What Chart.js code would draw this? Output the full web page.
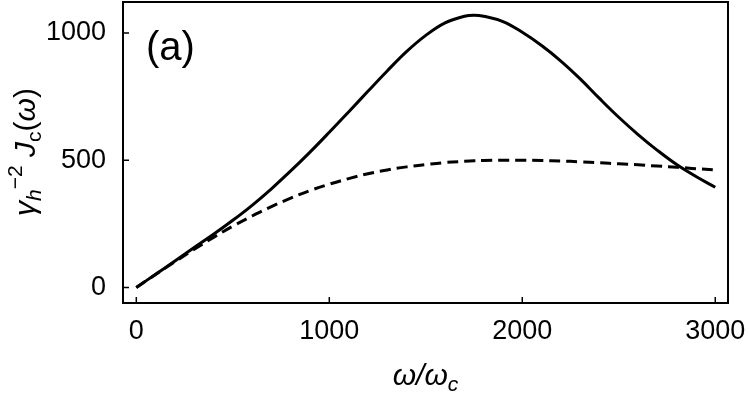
<!DOCTYPE html>
<html>
<head>
<meta charset="utf-8">
<script src="https://cdn.jsdelivr.net/npm/chart.js@4"></script>
<style>
  html, body { margin: 0; padding: 0; background: #fff; }
  #wrap { width: 750px; height: 398px; }
</style>
</head>
<body>
<div id="wrap"><canvas id="specChart" width="750" height="398"></canvas></div>
<script>
// values
const omega = [0, 100, 200, 300, 400, 500, 600, 700, 800, 900, 1000, 1100, 1200, 1300, 1400, 1500,
               1600, 1700, 1750, 1800, 1900, 2000, 2100, 2200, 2300, 2400, 2500, 2600, 2700, 2800, 2900, 3000]
const solidJ = [0, 52, 104, 157, 209, 264, 323, 388, 458, 532, 610, 690, 771, 851, 927, 991,
                1040, 1066, 1070, 1066, 1045, 1003, 951, 890, 820, 743, 669, 601, 539, 483, 436, 394]
const dashedJ = [0, 51, 101, 150, 197, 241, 281, 318, 351, 381, 406, 428, 447, 462, 474, 483,
                 491, 496, 498, 499, 500, 500, 499, 497, 494, 490, 486, 482, 477, 473, 467, 462]
const xTicks = [0, 1000, 2000, 3000]
const yTicks = [0, 500, 1000]

const FONT = "'Liberation Sans', Arial, sans-serif"

function toPoints(ys) {
    return omega.map((w, i) => ({ x: w, y: ys[i] }))
}

// draws frame, inward ticks, axis titles and panel label
const decorPlugin = {
    id: 'decor',
    afterDraw(chart) {
        const ctx = chart.ctx
        const area = chart.chartArea
        const xs = chart.scales.x
        const ys = chart.scales.y
        ctx.save()
        ctx.strokeStyle = '#000'

        ctx.lineWidth = 1.5
        ctx.beginPath()
        for (const t of xTicks) {
            const px = xs.getPixelForValue(t)
            ctx.moveTo(px, area.bottom)
            ctx.lineTo(px, area.bottom - 6)
        }
        for (const t of yTicks) {
            const py = ys.getPixelForValue(t)
            ctx.moveTo(area.left, py)
            ctx.lineTo(area.left + 6, py)
        }
        ctx.stroke()

        ctx.lineWidth = 2
        ctx.strokeRect(area.left, area.top, area.right - area.left, area.bottom - area.top)

        ctx.fillStyle = '#000'
        ctx.textBaseline = 'alphabetic'

        // panel label
        ctx.font = '40px ' + FONT
        ctx.textAlign = 'left'
        ctx.fillText('(a)', 146, 60)

        // x title: ω/ω_c
        let parts = [
            { t: 'ω', f: 'italic 30px ' + FONT, dy: 0 },
            { t: '/', f: 'italic 30px ' + FONT, dy: 0 },
            { t: 'ω', f: 'italic 30px ' + FONT, dy: 0 },
            { t: 'c', f: 'italic 21px ' + FONT, dy: 6 }
        ]
        drawParts(ctx, parts, (area.left + area.right) / 2, 385)

        // y title: γ_h^-2 J_c(ω), rotated
        parts = [
            { t: 'γ', f: 'italic 30px ' + FONT, dy: 0 },
            { t: 'h', f: 'italic 21px ' + FONT, dy: 6 },
            { t: '−2', f: '21px ' + FONT, dy: -13 },
            { t: ' ', f: '30px ' + FONT, dy: 0 },
            { t: 'J', f: 'italic 30px ' + FONT, dy: 0 },
            { t: 'c', f: '21px ' + FONT, dy: 6 },
            { t: '(', f: '30px ' + FONT, dy: 0 },
            { t: 'ω', f: 'italic 30px ' + FONT, dy: 0 },
            { t: ')', f: '30px ' + FONT, dy: 0 }
        ]
        ctx.translate(35, 152)
        ctx.rotate(-Math.PI / 2)
        drawParts(ctx, parts, 0, 0)

        ctx.restore()
    }
}

function drawParts(ctx, parts, cx, baseY) {
    let total = 0
    const widths = []
    for (let i = 0; i < parts.length; i++) {
        ctx.font = parts[i].f
        const w = ctx.measureText(parts[i].t).width
        widths.push(w)
        total += w
    }
    let x = cx - total / 2
    ctx.textAlign = 'left'
    for (let i = 0; i < parts.length; i++) {
        ctx.font = parts[i].f
        ctx.fillText(parts[i].t, x, baseY + parts[i].dy)
        x += widths[i]
    }
}

new Chart(document.getElementById('specChart'), {
    type: 'line',
    data: {
        datasets: [{
            label: 'solid',
            data: toPoints(solidJ),
            borderColor: '#000',
            borderWidth: 3,
            pointRadius: 0,
            tension: 0.4,
            fill: false
        }, {
            label: 'dashed',
            data: toPoints(dashedJ),
            borderColor: '#000',
            borderWidth: 3,
            borderDash: [11, 6],
            pointRadius: 0,
            tension: 0.4,
            fill: false
        }]
    },
    options: {
        responsive: false,
        animation: false,
        layout: { padding: { top: 2, right: 22, left: 0, bottom: 0 } },
        plugins: {
            legend: { display: false },
            tooltip: { enabled: false }
        },
        scales: {
            x: {
                type: 'linear',
                min: -69,
                max: 3066,
                grid: { display: false },
                border: { display: false },
                afterBuildTicks: (scale) => { scale.ticks = xTicks.map(v => ({ value: v })) },
                afterFit: (scale) => {
                    scale.height = 95
                    scale.paddingLeft = 0
                    scale.paddingRight = 0
                },
                ticks: {
                    color: '#000',
                    padding: 4,
                    maxRotation: 0,
                    font: { family: FONT, size: 27 },
                    callback: (v) => String(v)
                }
            },
            y: {
                type: 'linear',
                min: -61,
                max: 1122,
                grid: { display: false },
                border: { display: false },
                afterBuildTicks: (scale) => { scale.ticks = yTicks.map(v => ({ value: v })) },
                afterFit: (scale) => {
                    scale.width = 123
                    scale.paddingTop = 0
                    scale.paddingBottom = 0
                },
                ticks: {
                    color: '#000',
                    padding: 9,
                    font: { family: FONT, size: 27 },
                    callback: (v) => String(v)
                }
            }
        }
    },
    plugins: [decorPlugin]
});
</script>
</body>
</html>
